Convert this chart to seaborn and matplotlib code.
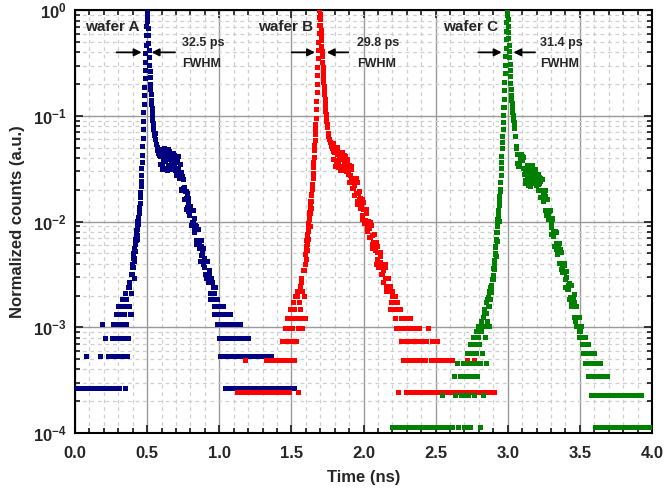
import numpy as np
import pandas as pd
import seaborn as sns
import matplotlib.pyplot as plt
from matplotlib.ticker import MultipleLocator, LogLocator, NullFormatter

# Histogram bin widths (ns): coarse record over the whole window,
# fine record around each peak, medium records over the foot of each rise and each decay
BIN = 0.010
FINE = 0.002
MID = 0.005

# ---- wafer A -------------------------------------------------------------
a_start = 0.00
a_counts = [
    1, 1, 1, 0, 0, 1, 1, 1, 2, 1,
    1, 1, 1, 1, 1, 1, 1, 1, 2, 4,
    1, 3, 1, 2, 1, 2, 3, 1, 4, 2,
    3, 1, 4, 2, 5, 1, 6, 3, 9, 5,
    14, 11, 20, 26, 38,
    52, 91, 195, 490, 1230, 3310, 2186, 999, 537, 347, 250,
    229, 190, 170, 158,
    165, 128, 176, 140, 118, 182, 150, 126, 168, 135,
    155, 109, 118, 132, 75, 78, 80, 49, 70, 47,
    53, 35, 37, 41, 23, 25, 25, 16, 22, 15,
    17, 11, 12, 13, 7, 8, 9, 5, 7, 4,
    5, 2, 4, 6, 1, 3, 4, 2, 5, 1,
    3, 2, 4, 1, 3, 2, 1, 3, 2, 1,
    3, 1, 2, 1, 2, 1, 1, 2, 1, 1,
    1, 2, 1, 1, 2, 1, 2, 1, 1, 1,
    1, 1, 1, 1, 1, 1, 1, 1, 1, 1, 1, 1, 1,
]
a_rise_start = 0.25
a_rise = [
    2, 1, 3, 2, 4, 1, 3, 5, 2, 4,
    3, 6, 1, 4, 5, 2, 7, 3, 5, 6,
    8, 4, 7, 2, 9, 6, 10, 5, 12, 8,
]
a_peak_start = 0.40
a_peak = [
    15, 12, 17, 14, 19, 16, 21, 17, 24, 20,
    26, 23, 29, 25, 31, 28, 35, 32, 38, 36,
    42, 40, 46, 45, 50,
    52, 57, 64, 72, 81, 91, 105, 120, 138, 162,
    195, 234, 281, 338, 406, 490, 589, 708, 851, 1023,
    1230, 1479, 1777, 2186, 2690, 3310, 3800, 3387, 2950, 2570,
    2186, 1860, 1584, 1348, 1147, 999, 870, 757, 676, 602,
    537, 490, 447, 406, 371, 347, 323, 302, 281, 262,
    250,
]
a_decay_start = 0.555
a_decay = [
    257, 228, 204, 190, 178, 168, 162, 184, 133, 157,
    119, 170, 140, 188, 122, 144, 159, 117, 167, 130,
    174, 119, 148, 133, 167, 121, 137, 160, 116, 137,
    104, 148, 121, 158, 98, 109, 111, 76, 102, 75,
    95, 62, 74, 63, 74, 52, 56, 63, 43, 49,
    35, 48, 37, 48, 30, 33, 35, 25, 34, 25,
    32, 21, 24, 21, 25, 18, 19, 21, 14, 16,
    12, 16, 12, 16, 10, 11, 12, 8, 11, 8,
    10, 7, 8, 6, 9, 5, 7, 4, 6, 3,
    5, 2, 6, 4, 3, 5, 2, 4, 1, 3,
    5, 2, 3, 1, 4, 2, 3, 1, 2, 3,
    2, 4, 1, 3, 2, 1, 3, 2, 4, 1,
    2, 3, 1, 2, 1, 3, 1, 2, 1, 2,
]

# ---- wafer B -------------------------------------------------------------
b_start = 1.13
b_counts = [
    1, 1, 1, 1, 1, 2, 1, 1, 1, 1,
    1, 1, 1, 1, 1, 1, 1, 1, 1, 1,
    2, 1, 2, 1, 2, 1, 1, 2, 1, 2,
    1, 3, 2, 4, 1, 3, 5, 2, 4, 6,
    3, 8, 1, 6, 11, 4, 14, 5, 22, 28,
    37, 55,
    105, 192, 341, 818, 2054, 3739, 2102, 1182, 712, 449, 318,
    262, 231, 210, 190, 195, 150, 178,
    140, 185, 132, 160, 172, 125, 155, 138, 112, 127,
    85, 91, 104, 60, 66, 68, 43, 62, 42, 49,
    33, 35, 40, 23, 26, 26, 16, 24, 16, 19,
    13, 14, 16, 9, 10, 10, 6, 9, 6, 7,
    4, 1, 6, 3, 5, 2, 4, 1, 5, 3,
    2, 4, 1, 3, 2, 4, 1, 2, 3, 1,
    2, 3, 4, 1, 2, 3, 1, 2, 3, 1,
    2, 1, 2, 1, 2, 1, 1, 2, 1, 2,
    1, 1, 1, 1, 1, 1, 1, 1, 1, 2,
    1, 1, 1, 1, 2, 1, 1, 1, 1, 1,
    1, 1, 1, 1, 1, 1, 1, 1, 1,
]
b_rise_start = 1.45
b_rise = [
    3, 1, 4, 2, 3, 5, 2, 4, 1, 6,
    3, 5, 4, 7, 2, 6, 8, 3, 5, 9,
    4, 7, 10, 6, 12, 5, 9, 14, 8, 16,
]
b_peak_start = 1.60
b_peak = [
    20, 18, 24, 22, 27, 25, 31, 28, 35, 33,
    39, 37, 45, 43, 50, 49, 57, 55, 64, 63,
    72, 74, 82, 85, 93,
    105, 118, 132, 149, 167, 192, 215, 241, 271, 304,
    341, 391, 470, 565, 680, 818, 983, 1182, 1421, 1708,
    2054, 2469, 2968, 3490, 4100, 3739, 3332, 2969, 2646, 2359,
    2102, 1874, 1670, 1489, 1327, 1182, 1054, 939, 856, 781,
    712, 649, 592, 540, 492, 449, 419, 392, 365, 341,
    318,
]
b_decay_start = 1.755
b_decay = [
    282, 262, 246, 231, 220, 210, 200, 227, 160, 184,
    137, 192, 156, 206, 133, 155, 171, 125, 177, 137,
    183, 124, 153, 137, 170, 123, 138, 159, 114, 131,
    97, 133, 106, 136, 85, 96, 103, 72, 99, 75,
    96, 63, 76, 66, 79, 55, 60, 67, 47, 53,
    39, 53, 42, 54, 34, 38, 41, 29, 39, 29,
    38, 25, 30, 26, 31, 22, 24, 26, 18, 21,
    15, 21, 17, 21, 13, 15, 16, 11, 15, 12,
    15, 10, 12, 10, 12, 9, 9, 10, 7, 8,
    6, 8, 6, 8, 5, 6, 7, 4, 6, 4,
    6, 3, 5, 4, 5, 3, 4, 2, 4, 3,
    2, 4, 3, 1, 5, 2, 3, 4, 1, 3,
    2, 4, 1, 2, 3, 1, 4, 2, 1, 3,
]

# ---- wafer C -------------------------------------------------------------
c_start = 2.20
c_counts = [
    1, 0, 1, 0, 1, 1, 0, 1, 1, 1,
    0, 1, 1, 1, 1, 0, 1, 1, 1, 1,
    1, 1, 1, 1, 1, 1, 1, 1, 1, 1,
    1, 1, 1, 1, 1, 2, 1, 1, 1, 1,
    1, 1, 1, 3, 2, 4, 1, 3, 2, 4,
    1, 3, 4, 2, 5, 3, 6, 2, 8, 4,
    7, 1, 10, 2, 12, 4, 16, 9, 21, 19,
    27, 33, 41, 57, 88, 179, 366, 766, 1837, 4614,
    8026, 4115, 2063, 1160, 840, 667, 430, 310, 290, 360,
    330, 280, 215, 250, 270, 205, 255, 228, 275, 210,
    245, 198, 230, 224, 150, 157, 175, 100, 105, 109,
    66, 95, 63, 71, 48, 50, 55, 31, 33, 34,
    21, 30, 20, 23, 15, 16, 18, 10, 11, 11,
    7, 9, 6, 7, 4, 5, 6, 3, 4, 2,
    5, 1, 3, 2, 4, 1, 3, 2, 1, 2,
    2, 1, 2, 1, 2, 1, 1, 2, 1, 2,
    1, 1, 2, 1, 1, 1, 2, 1, 2, 1,
    1, 2, 1, 2, 1, 1, 1, 1, 1, 1, 1,
]
c_rise_start = 2.70
c_rise = [
    3, 1, 4, 2, 5, 3, 2, 4, 6, 1,
    5, 3, 7, 4, 2, 6, 8, 5, 3, 7,
    9, 6, 4, 10, 8, 5, 11, 9, 13, 7,
    12, 15, 10, 17, 14, 19, 16, 22, 20, 25,
]
c_peak_start = 2.90
c_peak = [
    27, 25, 32, 31, 38, 36, 44, 43, 51, 50,
    59, 58, 69, 70, 80, 82, 93, 96, 108, 112,
    125, 131, 146, 152, 168,
    179, 206, 242, 278, 319, 366, 431, 495, 568, 652,
    766, 880, 1058, 1271, 1528, 1837, 2209, 2656, 3192, 3838,
    4614, 5552, 6676, 7843, 8800, 8026, 7152, 6229, 5425, 4725,
    4115, 3584, 3122, 2719, 2368, 2063, 1797, 1565, 1363, 1243,
    1160, 1083, 1010, 943, 880, 840, 803, 766, 732, 699,
    667,
]
c_decay_start = 3.055
c_decay = [
    560, 450, 380, 315, 290, 300, 330, 365, 380, 360,
    330, 354, 245, 275, 201, 278, 225, 298, 194, 228,
    255, 190, 276, 218, 296, 204, 253, 225, 276, 195,
    214, 244, 172, 200, 150, 212, 173, 220, 136, 152,
    160, 112, 152, 113, 144, 93, 110, 94, 112, 77,
    83, 93, 64, 71, 51, 69, 55, 70, 43, 48,
    51, 35, 48, 35, 45, 29, 35, 29, 35, 25,
    26, 30, 20, 22, 16, 22, 17, 22, 14, 15,
    16, 11, 15, 11, 14, 9, 11, 9, 11, 8,
    8, 9, 6, 7, 5, 7, 6, 7, 4, 5,
    6, 3, 5, 3, 4, 2, 4, 3, 2, 4,
    3, 1, 4, 2, 3, 1, 2, 4, 1, 3,
    2, 1, 3, 2, 1, 2, 1, 3, 1, 2,
]

wafers = ["wafer A", "wafer B", "wafer C"]
colors = ["#000080", "#ff0000", "#008000"]
fwhm_labels = ["32.5 ps", "29.8 ps", "31.4 ps"]


def histogram(name, records):
    """Merge the (start, bin width, counts) records of one wafer and normalise to the peak."""
    t = np.concatenate([s + w * np.arange(len(c)) for s, w, c in records])
    n = np.concatenate([c for _, _, c in records]).astype(float)
    keep = n > 0
    return pd.DataFrame({"time": t[keep], "norm": n[keep] / n.max(), "wafer": name})


df = pd.concat([
    histogram(wafers[0], [(a_start, BIN, a_counts), (a_rise_start, MID, a_rise),
                          (a_peak_start, FINE, a_peak), (a_decay_start, MID, a_decay)]),
    histogram(wafers[1], [(b_start, BIN, b_counts), (b_rise_start, MID, b_rise),
                          (b_peak_start, FINE, b_peak), (b_decay_start, MID, b_decay)]),
    histogram(wafers[2], [(c_start, BIN, c_counts), (c_rise_start, MID, c_rise),
                          (c_peak_start, FINE, c_peak), (c_decay_start, MID, c_decay)]),
], ignore_index=True)

sns.set_style("ticks")
plt.rcParams.update({
    "font.family": ["Liberation Sans", "DejaVu Sans"],
    "font.weight": "bold",
    "axes.labelweight": "bold",
    "mathtext.fontset": "custom",
    "mathtext.rm": "Liberation Sans:bold",
    "mathtext.bf": "Liberation Sans:bold",
    "mathtext.it": "Liberation Sans:bold",
})

fig = plt.figure(figsize=(6.65, 4.97), dpi=100)
ax = fig.add_axes([75 / 665, 1 - 433 / 497, 577 / 665, 422.7 / 497])

sns.scatterplot(data=df, x="time", y="norm", hue="wafer",
                palette=dict(zip(wafers, colors)), marker="s", s=13,
                linewidth=0, legend=False, ax=ax, zorder=3)

ax.set_yscale("log")
ax.set_xlim(0, 4)
ax.set_ylim(1e-4, 1)

ax.set_xticks(np.arange(0, 4.01, 0.5))
ax.set_xticklabels([f"{v:.1f}" for v in np.arange(0, 4.01, 0.5)])
ax.xaxis.set_minor_locator(MultipleLocator(0.1))
decades = [1e-4, 1e-3, 1e-2, 1e-1, 1]
ax.set_yticks(decades)
ax.set_yticklabels([r"$10^{-4}$", r"$10^{-3}$", r"$10^{-2}$", r"$10^{-1}$", r"$10^{0}$"])
ax.yaxis.set_minor_locator(LogLocator(base=10, subs=range(2, 10)))
ax.yaxis.set_minor_formatter(NullFormatter())

ax.tick_params(which="both", direction="in", top=True, right=True, width=1.3)
ax.tick_params(axis="x", which="major", labelsize=12, pad=9)
ax.tick_params(axis="y", which="major", labelsize=12, pad=6)
ax.tick_params(which="major", length=6)
ax.tick_params(which="minor", length=3.5)
for sp in ax.spines.values():
    sp.set_linewidth(1.5)
    sp.set_color("black")

ax.set_axisbelow(True)
ax.grid(which="major", color="#9a9a9a", linewidth=1.0, linestyle="-", zorder=0)
ax.grid(which="minor", color="#cfcfcf", linewidth=0.9, linestyle=(0, (3, 3)), zorder=0)

ax.set_xlabel("Time (ns)", fontsize=12, fontweight="bold", labelpad=7)
ax.set_ylabel("Normalized counts (a.u.)", fontsize=12, fontweight="bold", labelpad=6)

# Labels and FWHM markers for each trace
label_x = [0.07, 1.27, 2.55]
arrow_left = [(0.289, 0.462), (1.502, 1.664), (2.796, 2.958)]
arrow_right = [(0.693, 0.531), (1.895, 1.745), (3.189, 3.039)]
fwhm_x = [0.742, 1.953, 3.224]
for i in range(3):
    ax.text(label_x[i], 0.69, wafers[i], fontsize=11, fontweight="bold", va="center")
    for x0, x1 in (arrow_left[i], arrow_right[i]):
        ax.annotate("", xy=(x1, 0.40), xytext=(x0, 0.40),
                    arrowprops=dict(arrowstyle="-|>", color="black", lw=1.3,
                                    mutation_scale=11, shrinkA=0, shrinkB=0),
                    zorder=5)
    ax.text(fwhm_x[i], 0.49, fwhm_labels[i], fontsize=9, fontweight="bold", va="center")
    ax.text(fwhm_x[i], 0.31, "FWHM", fontsize=9, fontweight="bold", va="center")

fig.savefig("out.png", dpi=100)
